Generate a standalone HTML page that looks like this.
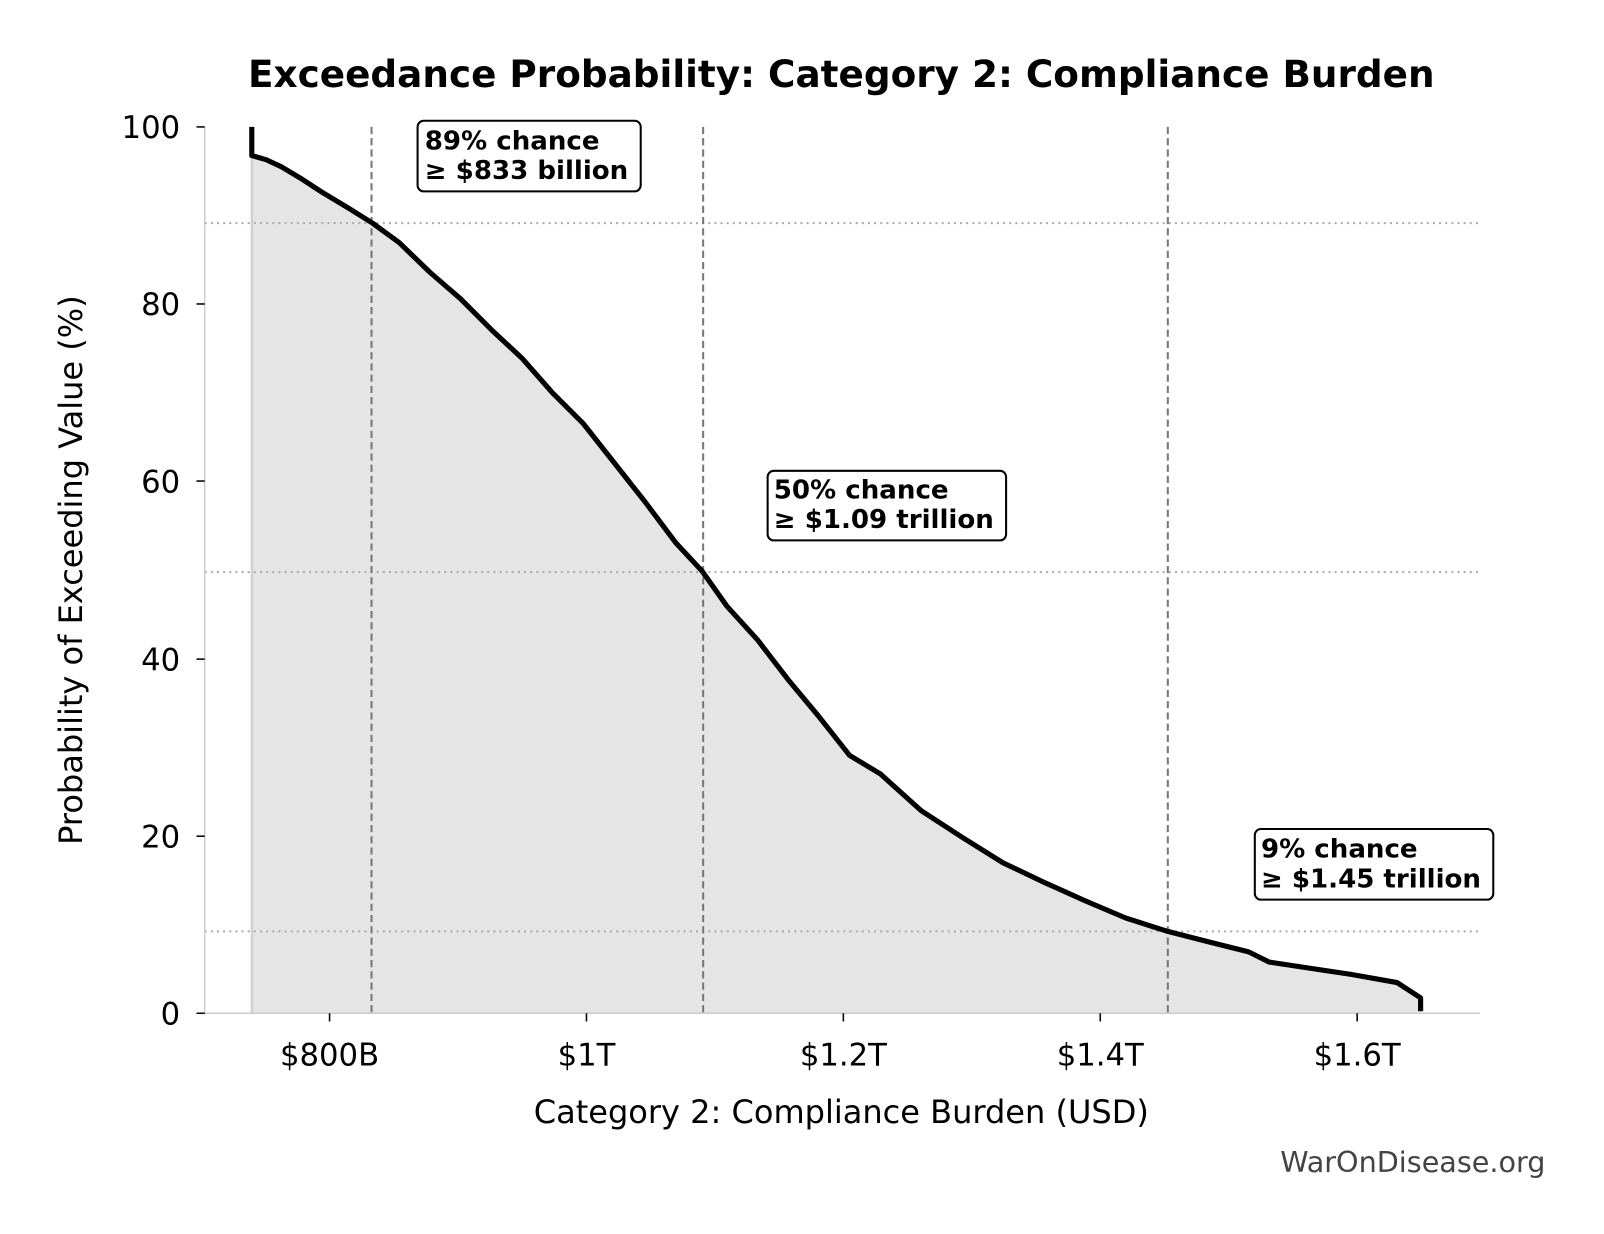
<!DOCTYPE html>
<html><head><meta charset="utf-8"><style>html,body{margin:0;padding:0;background:#fff}svg{display:block}text{font-family:"DejaVu Sans","Liberation Sans",sans-serif}</style></head><body>
<svg width="1604" height="1234" viewBox="0 0 1604 1234" xmlns="http://www.w3.org/2000/svg">
<rect width="1604" height="1234" fill="#fff"/>
<g transform="scale(1.0235)">
<text x="822" y="85" font-size="36.5" font-weight="bold" text-anchor="middle">Exceedance Probability: Category 2: Compliance Burden</text>
<polygon fill="#e5e5e5" points="246,990 246,124 246,152 260,156 275,163 295,175 315,188 340,203 364,218 390,237 420,266 450,292 480,322 510,350 540,384 570,414 600,452 630,490 660,530 686,558 710,592 740,625 770,664 800,700 830,738 860,756 900,792 940,818 980,843 1020,862 1060,880 1100,897 1141,910 1180,920 1220,930 1240,940 1280,946 1320,952 1365,960 1388,975 1388,990"/>
<line x1="246" y1="124" x2="246" y2="990" stroke="#ccc" stroke-width="2"/>
<g stroke="#aaa" stroke-width="2" stroke-dasharray="2,4">
<line x1="200" y1="218" x2="1446" y2="218"/><line x1="200" y1="559" x2="1446" y2="559"/><line x1="200" y1="910" x2="1446" y2="910"/></g>
<g stroke="#777" stroke-width="2" stroke-dasharray="7,4">
<line x1="363" y1="124" x2="363" y2="990"/><line x1="687" y1="124" x2="687" y2="990"/><line x1="1141" y1="124" x2="1141" y2="990"/></g>
<polyline fill="none" stroke="#000" stroke-width="5" stroke-linejoin="round" points="246,124 246,152 260,156 275,163 295,175 315,188 340,203 364,218 390,237 420,266 450,292 480,322 510,350 540,384 570,414 600,452 630,490 660,530 686,558 710,592 740,625 770,664 800,700 830,738 860,756 900,792 940,818 980,843 1020,862 1060,880 1100,897 1141,910 1180,920 1220,930 1240,940 1280,946 1320,952 1365,960 1388,975 1388,988"/>
<g stroke="#ccc" stroke-width="1.5"><line x1="200" y1="124" x2="200" y2="990"/><line x1="200" y1="990" x2="1446" y2="990"/></g>
<g stroke="#000" stroke-width="1.5">
<line x1="192" y1="124" x2="200" y2="124"/><line x1="192" y1="297" x2="200" y2="297"/><line x1="192" y1="470" x2="200" y2="470"/><line x1="192" y1="644" x2="200" y2="644"/><line x1="192" y1="817" x2="200" y2="817"/><line x1="192" y1="990" x2="200" y2="990"/>
<line x1="322" y1="990" x2="322" y2="998"/><line x1="573" y1="990" x2="573" y2="998"/><line x1="824" y1="990" x2="824" y2="998"/><line x1="1075" y1="990" x2="1075" y2="998"/><line x1="1326" y1="990" x2="1326" y2="998"/></g>
<g font-size="30" text-anchor="end">
<text x="176" y="135">100</text><text x="176" y="308">80</text><text x="176" y="481">60</text><text x="176" y="655">40</text><text x="176" y="828">20</text><text x="176" y="1001">0</text></g>
<g font-size="30" text-anchor="middle">
<text x="322" y="1041">$800B</text><text x="573" y="1041">$1T</text><text x="824" y="1041">$1.2T</text><text x="1075" y="1041">$1.4T</text><text x="1326" y="1041">$1.6T</text>
<text x="822" y="1097" font-size="31.3">Category 2: Compliance Burden (USD)</text></g>
<text transform="translate(80,557) rotate(-90)" font-size="31.3" text-anchor="middle">Probability of Exceeding Value (%)</text>
<g font-size="25.5" font-weight="bold">
<rect x="408" y="118" width="218" height="69" rx="6" fill="#fff" stroke="#000" stroke-width="2"/>
<text x="415" y="146">89% chance</text><text x="415" y="175">≥ $833 billion</text>
<rect x="750" y="460" width="233" height="68" rx="6" fill="#fff" stroke="#000" stroke-width="2"/>
<text x="756" y="487">50% chance</text><text x="756" y="516">≥ $1.09 trillion</text>
<rect x="1226" y="810" width="233" height="69" rx="6" fill="#fff" stroke="#000" stroke-width="2"/>
<text x="1232" y="838">9% chance</text><text x="1232" y="867">≥ $1.45 trillion</text></g>
<text x="1510" y="1145" font-size="28" fill="#444" text-anchor="end">WarOnDisease.org</text>
</g>
</svg>
</body></html>
